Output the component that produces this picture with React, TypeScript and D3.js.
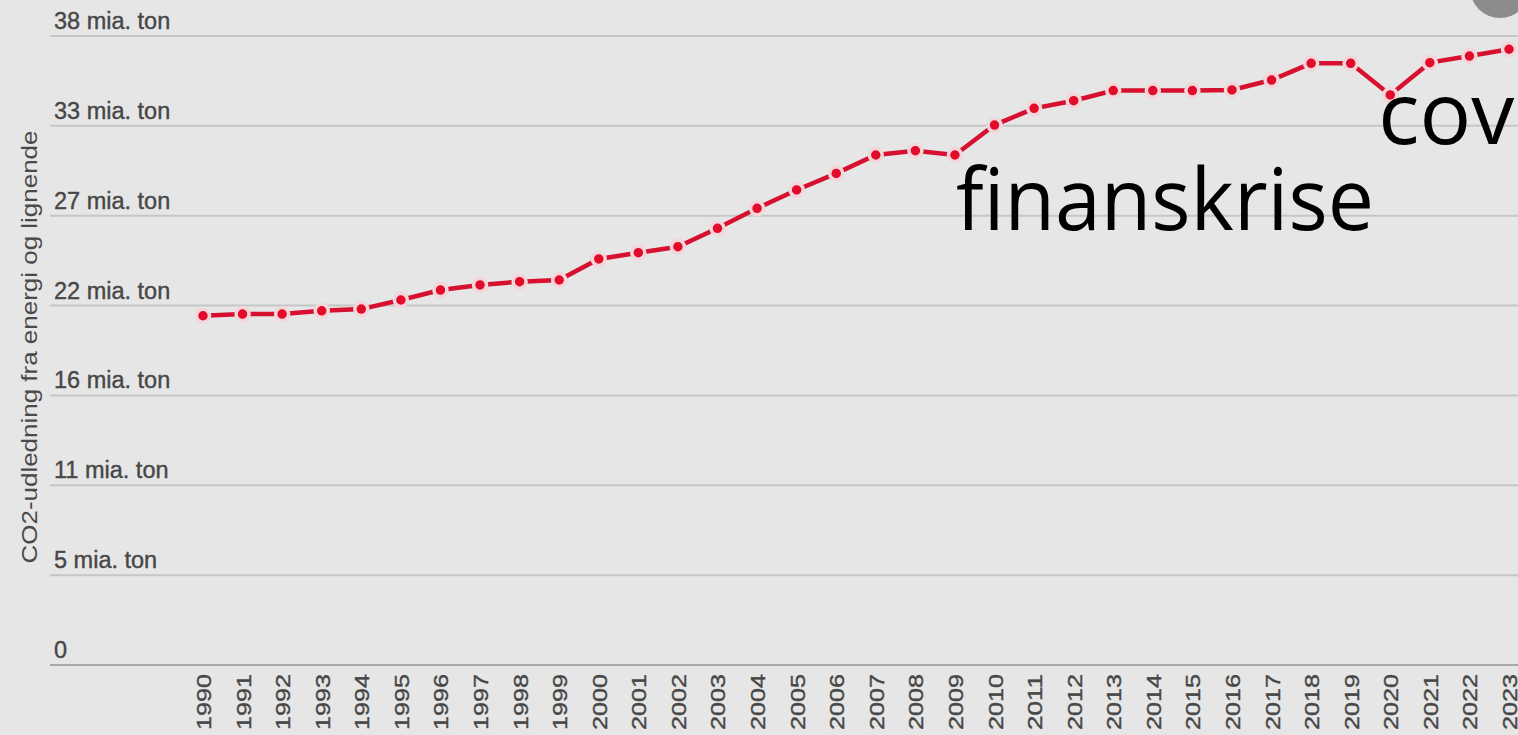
import React, { useEffect, useRef } from 'react';
import * as d3 from 'd3';

const years = d3.range(1990, 2024).map(String);
const emissions = [
  21.1, 21.2, 21.2, 21.4, 21.5, 22.05, 22.65, 22.96, 23.16, 23.26,
  24.53, 24.91, 25.27, 26.38, 27.59, 28.7, 29.7, 30.81, 31.07, 30.81,
  32.62, 33.63, 34.09, 34.7, 34.7, 34.7, 34.74, 35.34, 36.35, 36.35,
  34.44, 36.39, 36.79, 37.2,
];
const yTicks = [0, 38 / 7, (38 / 7) * 2, (38 / 7) * 3, (38 / 7) * 4, (38 / 7) * 5, (38 / 7) * 6, 38];
const tickLabels = ['0', '5 mia. ton', '11 mia. ton', '16 mia. ton', '22 mia. ton', '27 mia. ton', '33 mia. ton', '38 mia. ton'];
const yTitle = 'CO2-udledning fra energi og lignende';
const notes = [
  { year: '2009', text: 'finanskrise', dx: 1, y: 230, len: 418 },
  { year: '2020', text: 'covid', dx: -12, y: 144, len: 0 },
];

function App() {
  const svgRef = useRef<SVGSVGElement>(null);

  useEffect(() => {
    const width = 1518;
    const height = 735;
    const svg = d3.select(svgRef.current);
    svg.selectAll('*').remove();

    const x = d3.scalePoint().domain(years).range([203, 1509]);
    const y = d3.scaleLinear().domain([0, 38]).range([665, 36]);

    svg.append('rect').attr('width', width).attr('height', height).attr('fill', '#e6e6e6');

    // grid + labels
    const g = svg.append('g');
    yTicks.forEach((t, i) => {
      g.append('line')
        .attr('x1', 50).attr('x2', width)
        .attr('y1', y(t)).attr('y2', y(t))
        .attr('stroke', i === 0 ? '#a8a8a8' : '#c6c6c6')
        .attr('stroke-width', 2);
      g.append('text')
        .attr('x', 54)
        .attr('y', y(t) - 7)
        .attr('font-family', 'Liberation Sans, Arial, sans-serif')
        .attr('font-size', 23.5)
        .attr('fill', '#474747')
        .attr('stroke', '#474747')
        .attr('stroke-width', 0.4)
        .text(tickLabels[i]);
    });

    svg.append('text')
      .attr('transform', 'translate(37,347) rotate(-90)')
      .attr('text-anchor', 'middle')
      .attr('font-family', 'Liberation Sans, Arial, sans-serif')
      .attr('font-size', 22)
      .attr('fill', '#4a4a4a')
      .attr('textLength', 433)
      .attr('lengthAdjust', 'spacingAndGlyphs')
      .text(yTitle);

    // x axis labels
    years.forEach((yr) => {
      svg.append('text')
        .attr('transform', `translate(${(x(yr) as number) + 8},674) rotate(-90)`)
        .attr('text-anchor', 'end')
        .attr('font-family', 'Liberation Sans, Arial, sans-serif')
        .attr('font-size', 21)
        .attr('fill', '#474747')
        .attr('stroke', '#474747')
        .attr('stroke-width', 0.4)
        .attr('textLength', 56)
        .attr('lengthAdjust', 'spacingAndGlyphs')
        .text(yr);
    });

    const line = d3.line<number>()
      .x((_, i) => x(years[i]) as number)
      .y((d) => y(d));

    svg.append('path')
      .datum(emissions)
      .attr('d', line)
      .attr('fill', 'none')
      .attr('stroke', '#d6102e')
      .attr('stroke-width', 4.5);

    svg.selectAll('circle.pt')
      .data(emissions)
      .enter()
      .append('circle')
      .attr('class', 'pt')
      .attr('cx', (_, i) => x(years[i]) as number)
      .attr('cy', (d) => y(d))
      .attr('r', 6.5)
      .attr('fill', '#e30b2a')
      .attr('stroke', '#f3d6da')
      .attr('stroke-width', 3.5);

    // annotations
    notes.forEach((n) => {
      const t = svg.append('text')
        .attr('x', (x(n.year) as number) + n.dx)
        .attr('y', n.y)
        .attr('font-family', 'Open Sans, Noto Sans, sans-serif')
        .attr('font-size', 86)
        .attr('fill', '#000')
        .text(n.text);
      if (n.len) t.attr('textLength', n.len).attr('lengthAdjust', 'spacingAndGlyphs');
    });

    // corner button
    svg.append('circle')
      .attr('cx', 1500)
      .attr('cy', -12)
      .attr('r', 30)
      .attr('fill', '#8c8c8c');
  }, []);

  return (
    <svg
      ref={svgRef}
      width={1518}
      height={735}
      style={{ position: 'absolute', left: 0, top: 0 }}
    ></svg>
  );
}

export default App;
